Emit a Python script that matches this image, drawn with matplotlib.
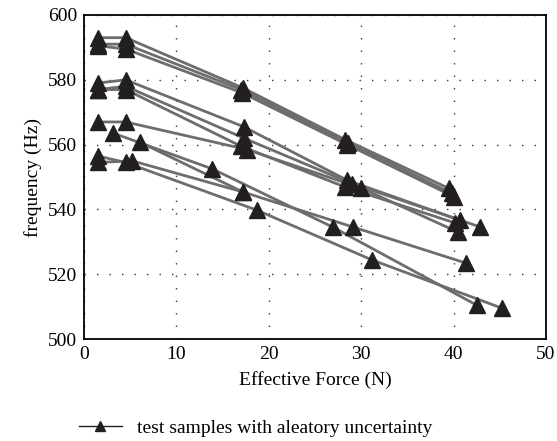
import matplotlib
matplotlib.use('Agg')
import matplotlib.pyplot as plt

# each sample: effective force (N) and frequency (Hz)
force_a = [1.5, 4.5, 17.2, 28.3, 39.5]
freq_a = [593, 593, 577.5, 561.5, 546.5]
force_b = [1.5, 4.5, 17.0, 28.6, 39.8]
freq_b = [591, 591, 577, 560.5, 545]
force_c = [1.5, 4.5, 17.1, 28.5, 40.0]
freq_c = [590.5, 589.5, 576, 560, 544]
force_d = [1.5, 4.5, 17.3, 28.5, 40.7]
freq_d = [579, 580, 565.5, 549, 536.7]
force_e = [1.5, 4.5, 17.3, 29.0, 42.9]
freq_e = [577, 578, 562, 548, 534.6]
force_f = [1.5, 4.5, 17.0, 28.2, 40.2]
freq_f = [577, 577, 559.5, 547, 535.8]
force_g = [1.5, 4.5, 17.6, 30.0, 40.5]
freq_g = [567, 567, 558.5, 546.6, 533]
force_h = [3.1, 13.9, 26.9, 42.5]
freq_h = [563.6, 552.5, 534.6, 510.5]
force_i = [6.0, 17.2, 29.1, 41.3]
freq_i = [560.8, 545.4, 534.6, 523.5]
force_j = [1.5, 4.5, 18.7, 31.2, 45.3]
freq_j = [556.5, 554.5, 539.8, 524.4, 509.5]
force_k = [1.5, 5.2, 17.2]
freq_k = [554.5, 555, 545.4]

samples = [(force_a, freq_a), (force_b, freq_b), (force_c, freq_c),
           (force_d, freq_d), (force_e, freq_e), (force_f, freq_f),
           (force_g, freq_g), (force_h, freq_h), (force_i, freq_i),
           (force_j, freq_j), (force_k, freq_k)]

plt.rcParams['font.family'] = ['Liberation Serif', 'DejaVu Serif']

fig = plt.figure(figsize=(5.57, 4.41), dpi=100)
ax = fig.add_axes([0.151, 0.231, 0.829, 0.735])

# lines first, markers on top
for fx, fy in samples:
    ax.plot(fx, fy, color='#6d6d6d', lw=2, zorder=2)
for fx, fy in samples:
    ax.plot(fx, fy, ls='none', marker='^', ms=11, color='#231f20', zorder=3)

ax.set_xlim(0, 50)
ax.set_ylim(500, 600)
ax.set_xticks(range(0, 51, 10))
ax.set_yticks(range(500, 601, 20))
ax.grid(True, color='#333333', ls=(0, (1, 8)), lw=1)
ax.tick_params(length=0, labelsize=14, pad=5)
for s in ax.spines.values():
    s.set_linewidth(1.3)

ax.set_xlabel('Effective Force (N)', fontsize=14, labelpad=6)
ax.set_ylabel('frequency (Hz)', fontsize=14)

handle, = ax.plot([], [], color='#231f20', lw=1, marker='^', ms=7)
fig.legend([handle], ['test samples with aleatory uncertainty'],
           loc='lower left', bbox_to_anchor=(0.135, 0.0), frameon=False,
           fontsize=14, handlelength=2.2, borderpad=0.2, borderaxespad=0)

fig.savefig('out.png', dpi=100)
